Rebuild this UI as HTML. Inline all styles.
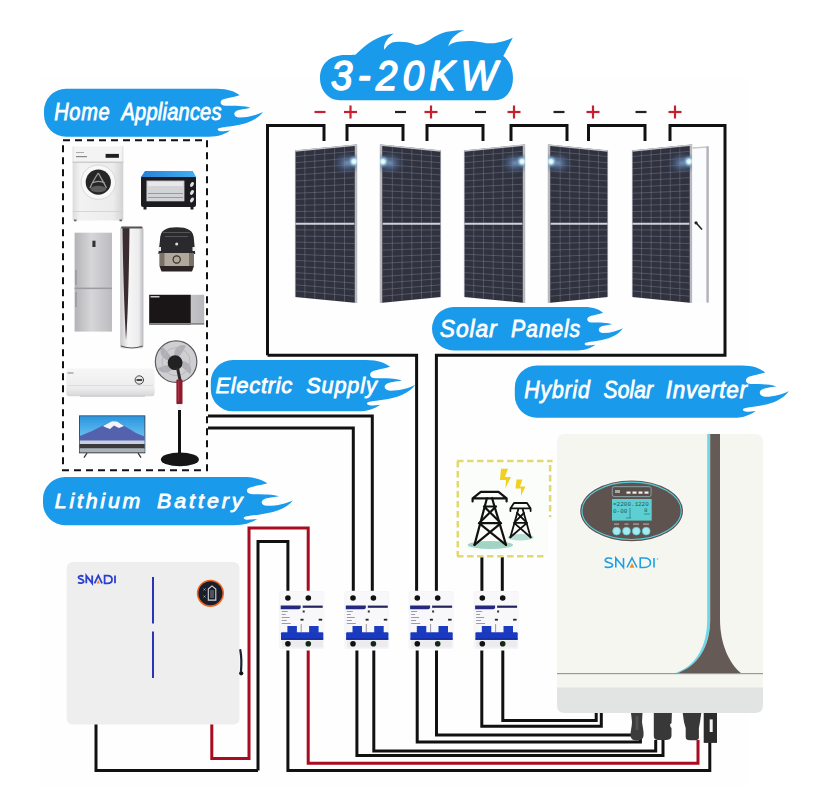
<!DOCTYPE html><html><head><meta charset="utf-8"><style>html,body{margin:0;padding:0;background:#fff;width:832px;height:810px;overflow:hidden}svg{display:block}.lt{font-family:"Liberation Sans",sans-serif;font-style:italic;font-weight:normal;fill:#fff;stroke:#fff;stroke-width:0.7px}</style></head><body>
<svg width="832" height="810" viewBox="0 0 832 810">
<rect x="0" y="0" width="832" height="810" fill="#ffffff"/>
<rect x="40" y="77" width="708" height="709" fill="#fefefe"/>
<path d="M267.5,355.2 L267.5,125.5 L324,125.5 L324,141" fill="none" stroke="#111" stroke-width="3" stroke-linejoin="miter" stroke-linecap="butt"/>
<path d="M347,141 L347,125.5 L403,125.5 L403,141" fill="none" stroke="#111" stroke-width="3" stroke-linejoin="miter" stroke-linecap="butt"/>
<path d="M427,141 L427,125.5 L483,125.5 L483,141" fill="none" stroke="#111" stroke-width="3" stroke-linejoin="miter" stroke-linecap="butt"/>
<path d="M511,141 L511,125.5 L567,125.5 L567,141" fill="none" stroke="#111" stroke-width="3" stroke-linejoin="miter" stroke-linecap="butt"/>
<path d="M588.5,141 L588.5,125.5 L645,125.5 L645,141" fill="none" stroke="#111" stroke-width="3" stroke-linejoin="miter" stroke-linecap="butt"/>
<path d="M670,141 L670,125.5 L725,125.5 L725,355.2 L436.4,355.2 L436.4,590.8" fill="none" stroke="#111" stroke-width="3" stroke-linejoin="miter" stroke-linecap="butt"/>
<path d="M267.5,355.2 L416.6,355.2 L416.6,590.8" fill="none" stroke="#111" stroke-width="3" stroke-linejoin="miter" stroke-linecap="butt"/>
<rect x="314.5" y="110.9" width="11" height="2.2" fill="#c42030"/>
<rect x="395.0" y="110.9" width="11" height="2.2" fill="#222"/>
<rect x="475.0" y="110.9" width="11" height="2.2" fill="#222"/>
<rect x="553.5" y="110.9" width="11" height="2.2" fill="#222"/>
<rect x="635.5" y="110.9" width="11" height="2.2" fill="#222"/>
<rect x="344.0" y="110.9" width="13" height="2.2" fill="#c42030"/>
<rect x="349.4" y="105.5" width="2.2" height="13" fill="#c42030"/>
<rect x="424.5" y="110.9" width="13" height="2.2" fill="#c42030"/>
<rect x="429.9" y="105.5" width="2.2" height="13" fill="#c42030"/>
<rect x="507.5" y="110.9" width="13" height="2.2" fill="#c42030"/>
<rect x="512.9" y="105.5" width="2.2" height="13" fill="#c42030"/>
<rect x="586.5" y="110.9" width="13" height="2.2" fill="#c42030"/>
<rect x="591.9" y="105.5" width="2.2" height="13" fill="#c42030"/>
<rect x="668.5" y="110.9" width="13" height="2.2" fill="#c42030"/>
<rect x="673.9" y="105.5" width="2.2" height="13" fill="#c42030"/>
<defs><radialGradient id="glare"><stop offset="0" stop-color="#ffffff"/><stop offset="0.3" stop-color="#d8f8ff" stop-opacity="0.95"/><stop offset="0.65" stop-color="#80b8d8" stop-opacity="0.45"/><stop offset="1" stop-color="#5a7aa8" stop-opacity="0"/></radialGradient><radialGradient id="glare2"><stop offset="0" stop-color="#7a9cc8" stop-opacity="0.9"/><stop offset="0.55" stop-color="#506890" stop-opacity="0.45"/><stop offset="1" stop-color="#3a4a70" stop-opacity="0"/></radialGradient></defs>
<clipPath id="pc295"><polygon points="295,150.5 357,144.5 357,303 295,297"/></clipPath>
<polygon points="295,150.5 357,144.5 357,303 295,297" fill="#30333f"/>
<path d="M304.90,149.54L304.90,297.96M314.80,148.58L314.80,298.92M324.70,147.63L324.70,299.87M334.60,146.67L334.60,300.83M344.50,145.71L344.50,301.79M295.00,156.60L354.40,151.33M295.00,162.71L354.40,157.92M295.00,168.81L354.40,164.50M295.00,174.92L354.40,171.08M295.00,181.02L354.40,177.67M295.00,187.12L354.40,184.25M295.00,193.23L354.40,190.83M295.00,199.33L354.40,197.42M295.00,205.44L354.40,204.00M295.00,211.54L354.40,210.58M295.00,217.65L354.40,217.17M295.00,229.85L354.40,230.33M295.00,235.96L354.40,236.92M295.00,242.06L354.40,243.50M295.00,248.17L354.40,250.08M295.00,254.27L354.40,256.67M295.00,260.38L354.40,263.25M295.00,266.48L354.40,269.83M295.00,272.58L354.40,276.42M295.00,278.69L354.40,283.00M295.00,284.79L354.40,289.58M295.00,290.90L354.40,296.17" stroke="#8c909c" stroke-width="0.75" opacity="0.5" fill="none"/>
<path d="M295.00,223.75L354.40,223.75" stroke="#d0d2d8" stroke-width="2"/>
<path d="M356,144.5L356,303" stroke="#b8b8bc" stroke-width="2.5"/>
<path d="M295,151.0L357,145.0" stroke="#c4c6cc" stroke-width="1.6"/>
<path d="M295.4,150.5L295.4,297" stroke="#a8aab2" stroke-width="0.8"/>
<g clip-path="url(#pc295)"><ellipse cx="347" cy="163" rx="15" ry="12" fill="url(#glare2)"/>
<circle cx="354" cy="161.5" r="7" fill="url(#glare)"/></g>
<clipPath id="pc380"><polygon points="380,144.5 441,150.5 441,297 380,303"/></clipPath>
<polygon points="380,144.5 441,150.5 441,297 380,303" fill="#30333f"/>
<path d="M392.33,145.71L392.33,301.79M402.07,146.67L402.07,300.83M411.80,147.63L411.80,299.87M421.53,148.59L421.53,298.91M431.27,149.54L431.27,297.96M382.60,151.34L441.00,156.60M382.60,157.92L441.00,162.71M382.60,164.50L441.00,168.81M382.60,171.09L441.00,174.92M382.60,177.67L441.00,181.02M382.60,184.25L441.00,187.12M382.60,190.84L441.00,193.23M382.60,197.42L441.00,199.33M382.60,204.00L441.00,205.44M382.60,210.58L441.00,211.54M382.60,217.17L441.00,217.65M382.60,230.33L441.00,229.85M382.60,236.92L441.00,235.96M382.60,243.50L441.00,242.06M382.60,250.08L441.00,248.17M382.60,256.66L441.00,254.27M382.60,263.25L441.00,260.38M382.60,269.83L441.00,266.48M382.60,276.41L441.00,272.58M382.60,283.00L441.00,278.69M382.60,289.58L441.00,284.79M382.60,296.16L441.00,290.90" stroke="#8c909c" stroke-width="0.75" opacity="0.5" fill="none"/>
<path d="M382.60,223.75L441.00,223.75" stroke="#d0d2d8" stroke-width="2"/>
<path d="M381,144.5L381,303" stroke="#b8b8bc" stroke-width="2.5"/>
<path d="M380,145.0L441,151.0" stroke="#c4c6cc" stroke-width="1.6"/>
<path d="M440.6,150.5L440.6,297" stroke="#a8aab2" stroke-width="0.8"/>
<g clip-path="url(#pc380)"><ellipse cx="390" cy="163" rx="15" ry="12" fill="url(#glare2)"/>
<circle cx="383" cy="161.5" r="7" fill="url(#glare)"/></g>
<clipPath id="pc464"><polygon points="464,150.5 525,144.5 525,303 464,297"/></clipPath>
<polygon points="464,150.5 525,144.5 525,303 464,297" fill="#30333f"/>
<path d="M473.73,149.54L473.73,297.96M483.47,148.59L483.47,298.91M493.20,147.63L493.20,299.87M502.93,146.67L502.93,300.83M512.67,145.71L512.67,301.79M464.00,156.60L522.40,151.34M464.00,162.71L522.40,157.92M464.00,168.81L522.40,164.50M464.00,174.92L522.40,171.09M464.00,181.02L522.40,177.67M464.00,187.12L522.40,184.25M464.00,193.23L522.40,190.84M464.00,199.33L522.40,197.42M464.00,205.44L522.40,204.00M464.00,211.54L522.40,210.58M464.00,217.65L522.40,217.17M464.00,229.85L522.40,230.33M464.00,235.96L522.40,236.92M464.00,242.06L522.40,243.50M464.00,248.17L522.40,250.08M464.00,254.27L522.40,256.66M464.00,260.38L522.40,263.25M464.00,266.48L522.40,269.83M464.00,272.58L522.40,276.41M464.00,278.69L522.40,283.00M464.00,284.79L522.40,289.58M464.00,290.90L522.40,296.16" stroke="#8c909c" stroke-width="0.75" opacity="0.5" fill="none"/>
<path d="M464.00,223.75L522.40,223.75" stroke="#d0d2d8" stroke-width="2"/>
<path d="M524,144.5L524,303" stroke="#b8b8bc" stroke-width="2.5"/>
<path d="M464,151.0L525,145.0" stroke="#c4c6cc" stroke-width="1.6"/>
<path d="M464.4,150.5L464.4,297" stroke="#a8aab2" stroke-width="0.8"/>
<g clip-path="url(#pc464)"><ellipse cx="515" cy="163" rx="15" ry="12" fill="url(#glare2)"/>
<circle cx="522" cy="161.5" r="7" fill="url(#glare)"/></g>
<clipPath id="pc548"><polygon points="548,144.5 608,150.5 608,297 548,303"/></clipPath>
<polygon points="548,144.5 608,150.5 608,297 548,303" fill="#30333f"/>
<path d="M560.17,145.72L560.17,301.78M569.73,146.67L569.73,300.83M579.30,147.63L579.30,299.87M588.87,148.59L588.87,298.91M598.43,149.54L598.43,297.96M550.60,151.34L608.00,156.60M550.60,157.92L608.00,162.71M550.60,164.51L608.00,168.81M550.60,171.09L608.00,174.92M550.60,177.67L608.00,181.02M550.60,184.25L608.00,187.12M550.60,190.84L608.00,193.23M550.60,197.42L608.00,199.33M550.60,204.00L608.00,205.44M550.60,210.59L608.00,211.54M550.60,217.17L608.00,217.65M550.60,230.33L608.00,229.85M550.60,236.92L608.00,235.96M550.60,243.50L608.00,242.06M550.60,250.08L608.00,248.17M550.60,256.66L608.00,254.27M550.60,263.25L608.00,260.38M550.60,269.83L608.00,266.48M550.60,276.41L608.00,272.58M550.60,282.99L608.00,278.69M550.60,289.57L608.00,284.79M550.60,296.16L608.00,290.90" stroke="#8c909c" stroke-width="0.75" opacity="0.5" fill="none"/>
<path d="M550.60,223.75L608.00,223.75" stroke="#d0d2d8" stroke-width="2"/>
<path d="M549,144.5L549,303" stroke="#b8b8bc" stroke-width="2.5"/>
<path d="M548,145.0L608,151.0" stroke="#c4c6cc" stroke-width="1.6"/>
<path d="M607.6,150.5L607.6,297" stroke="#a8aab2" stroke-width="0.8"/>
<g clip-path="url(#pc548)"><ellipse cx="558" cy="163" rx="15" ry="12" fill="url(#glare2)"/>
<circle cx="551" cy="161.5" r="7" fill="url(#glare)"/></g>
<clipPath id="pc632"><polygon points="632,150.5 692,144.5 692,303 632,297"/></clipPath>
<polygon points="632,150.5 692,144.5 692,303 632,297" fill="#30333f"/>
<path d="M641.57,149.54L641.57,297.96M651.13,148.59L651.13,298.91M660.70,147.63L660.70,299.87M670.27,146.67L670.27,300.83M679.83,145.72L679.83,301.78M632.00,156.60L689.40,151.34M632.00,162.71L689.40,157.92M632.00,168.81L689.40,164.51M632.00,174.92L689.40,171.09M632.00,181.02L689.40,177.67M632.00,187.12L689.40,184.25M632.00,193.23L689.40,190.84M632.00,199.33L689.40,197.42M632.00,205.44L689.40,204.00M632.00,211.54L689.40,210.59M632.00,217.65L689.40,217.17M632.00,229.85L689.40,230.33M632.00,235.96L689.40,236.92M632.00,242.06L689.40,243.50M632.00,248.17L689.40,250.08M632.00,254.27L689.40,256.66M632.00,260.38L689.40,263.25M632.00,266.48L689.40,269.83M632.00,272.58L689.40,276.41M632.00,278.69L689.40,282.99M632.00,284.79L689.40,289.57M632.00,290.90L689.40,296.16" stroke="#8c909c" stroke-width="0.75" opacity="0.5" fill="none"/>
<path d="M632.00,223.75L689.40,223.75" stroke="#d0d2d8" stroke-width="2"/>
<path d="M691,144.5L691,303" stroke="#b8b8bc" stroke-width="2.5"/>
<path d="M632,151.0L692,145.0" stroke="#c4c6cc" stroke-width="1.6"/>
<path d="M632.4,150.5L632.4,297" stroke="#a8aab2" stroke-width="0.8"/>
<g clip-path="url(#pc632)"><ellipse cx="682" cy="163" rx="15" ry="12" fill="url(#glare2)"/>
<circle cx="689" cy="161.5" r="7" fill="url(#glare)"/></g>
<polygon points="692.5,147.5 708.5,146.7 708.5,302 692.5,303" fill="#fbfcfd"/>
<path d="M692.5,148 L708,147" stroke="#c8c8cc" stroke-width="1.5"/>
<path d="M707.6,146.5 L707.6,302.5" stroke="#b4b4b8" stroke-width="2"/>
<path d="M707.6,146.5 L707.6,302.5" stroke="#b4b4b8" stroke-width="2"/>
<path d="M696,222.8 L702,229.5" stroke="#222" stroke-width="1.6"/><circle cx="696" cy="222.8" r="1.6" fill="#222"/>
<path d="M320,78 C320,64 330,55 345,55 C350,55 353,55 355.4,54.8 C366,44 378,35 393.9,33.4 C387,38 383,44 384.4,49.8 C388,44 392,42 397,41.8 C405,41.5 410,42.5 416,45 C422,45 428,41 434,37 C442,32 452,30 464.2,30.2 C456,33 449,40 448.4,46.6 C451,43 455,42 460,41.5 C468,40.5 476,41 483,42.5 C490,44.5 500,43 512.8,37.8 C509,45 506,51 503.3,56 C509,60 513,68 513,78 C513,90 506,100.2 495,100.2 L340,100.2 C328,100.2 320,90 320,78 Z" fill="#1a9aea"/>
<g transform="translate(331,89.5) scale(1,1.08)"><text x="0" y="0" font-size="38.5" textLength="166" lengthAdjust="spacing" style="font-family:'Liberation Sans',sans-serif;font-style:italic;font-weight:normal;stroke:#fff;stroke-width:1.5px;stroke-linejoin:round" fill="#fff">3-20KW</text></g>
<path d="M66.00,88.8 L216.80,88.8 C228.80,88.80 234.80,91.81 239.50,95.13 C232.80,97.34 225.30,97.84 222.30,99.85 C219.30,101.85 220.30,105.87 225.80,105.87 C234.80,105.87 244.80,105.87 250.50,107.88 C244.80,108.88 238.80,109.39 236.30,110.89 C232.80,112.90 233.80,117.42 239.80,117.42 C248.80,117.42 256.80,114.91 263.00,112.10 C256.80,119.93 246.80,123.95 232.80,125.96 C222.80,127.46 216.80,127.46 217.80,129.97 C218.80,131.98 224.80,130.98 230.30,130.47 C224.80,133.99 218.80,136.70 208.80,136.70 L66.00,136.7 A22.00,22.00 0 0 1 44,114.70 L44,110.80 A22.00,22.00 0 0 1 66.00,88.8 Z" fill="#1a9aea"/>
<g transform="translate(54.2,120) scale(1.000,1.15)"><text x="0" y="0" font-size="20.04" textLength="55.5" lengthAdjust="spacing" class="lt">Home</text></g>
<g transform="translate(121.5,120) scale(1.000,1.15)"><text x="0" y="0" font-size="20.04" textLength="100.0" lengthAdjust="spacing" class="lt">Appliances</text></g>
<path d="M453.75,307 L584.00,307 C594.13,307.00 599.19,309.74 603.16,312.75 C597.51,314.75 591.18,315.21 588.64,317.03 C586.11,318.86 586.95,322.50 591.60,322.50 C599.19,322.50 607.64,322.50 612.45,324.33 C607.64,325.24 602.57,325.69 600.46,327.06 C597.51,328.89 598.35,332.99 603.42,332.99 C611.01,332.99 617.77,330.71 623.00,328.16 C617.77,335.27 609.32,338.92 597.51,340.74 C589.06,342.11 584.00,342.11 584.84,344.39 C585.69,346.21 590.75,345.30 595.40,344.85 C590.75,348.04 585.69,350.50 577.25,350.50 L453.75,350.5 A21.75,21.75 0 0 1 432,328.75 L432,328.75 A21.75,21.75 0 0 1 453.75,307 Z" fill="#1a9aea"/>
<g transform="translate(439.8,337) scale(1.087,1.15)"><text x="0" y="0" font-size="21.01" textLength="52.2" lengthAdjust="spacing" class="lt">Solar</text></g>
<g transform="translate(511,337) scale(1.013,1.15)"><text x="0" y="0" font-size="21.01" textLength="68.3" lengthAdjust="spacing" class="lt">Panels</text></g>
<path d="M232.80,360 L366.00,360 C378.78,360.00 385.17,363.23 390.17,366.78 C383.04,369.14 375.05,369.68 371.86,371.83 C368.66,373.98 369.73,378.28 375.58,378.28 C385.17,378.28 395.82,378.28 401.89,380.43 C395.82,381.51 389.43,382.05 386.77,383.66 C383.04,385.81 384.10,390.65 390.49,390.65 C400.08,390.65 408.60,387.96 415.20,384.95 C408.60,393.34 397.95,397.64 383.04,399.79 C372.39,401.41 366.00,401.41 367.06,404.09 C368.13,406.25 374.52,405.17 380.38,404.63 C374.52,408.40 368.13,411.30 357.48,411.30 L232.80,411.3 A22.00,22.00 0 0 1 210.8,389.30 L210.8,382.00 A22.00,22.00 0 0 1 232.80,360 Z" fill="#1a9aea"/>
<g transform="translate(215.4,393.1) scale(1.121,1.15)"><text x="0" y="0" font-size="19.67" textLength="68.6" lengthAdjust="spacing" class="lt">Electric</text></g>
<g transform="translate(306.3,393.1) scale(1.100,1.15)"><text x="0" y="0" font-size="19.67" textLength="64.0" lengthAdjust="spacing" class="lt">Supply</text></g>
<path d="M536.80,365.5 L742.00,365.5 C754.21,365.50 760.31,368.78 765.09,372.39 C758.28,374.80 750.65,375.35 747.60,377.54 C744.54,379.73 745.56,384.10 751.16,384.10 C760.31,384.10 770.48,384.10 776.28,386.29 C770.48,387.39 764.38,387.93 761.84,389.58 C758.28,391.76 759.29,396.69 765.40,396.69 C774.55,396.69 782.69,393.95 789.00,390.89 C782.69,399.42 772.52,403.80 758.28,405.99 C748.10,407.63 742.00,407.63 743.02,410.37 C744.03,412.56 750.14,411.46 755.73,410.92 C750.14,414.75 744.03,417.70 733.86,417.70 L536.80,417.7 A22.00,22.00 0 0 1 514.8,395.70 L514.8,387.50 A22.00,22.00 0 0 1 536.80,365.5 Z" fill="#1a9aea"/>
<g transform="translate(524.3,398) scale(1.013,1.15)"><text x="0" y="0" font-size="21.01" textLength="64.6" lengthAdjust="spacing" class="lt">Hybrid</text></g>
<g transform="translate(603.6,398) scale(1.000,1.15)"><text x="0" y="0" font-size="21.01" textLength="49.5" lengthAdjust="spacing" class="lt">Solar</text></g>
<g transform="translate(665.7,398) scale(1.072,1.15)"><text x="0" y="0" font-size="21.01" textLength="75.8" lengthAdjust="spacing" class="lt">Inverter</text></g>
<path d="M65.00,477 L242.70,477 C255.76,477.00 262.30,480.03 267.41,483.37 C260.12,485.59 251.95,486.09 248.69,488.12 C245.42,490.14 246.51,494.18 252.50,494.18 C262.30,494.18 273.18,494.18 279.39,496.20 C273.18,497.21 266.65,497.71 263.93,499.23 C260.12,501.25 261.21,505.80 267.74,505.80 C277.54,505.80 286.25,503.27 293.00,500.44 C286.25,508.32 275.36,512.37 260.12,514.39 C249.23,515.90 242.70,515.90 243.79,518.43 C244.88,520.45 251.41,519.44 257.40,518.94 C251.41,522.47 244.88,525.20 233.99,525.20 L65.00,525.2 A22.00,22.00 0 0 1 43,503.20 L43,499.00 A22.00,22.00 0 0 1 65.00,477 Z" fill="#1a9aea"/>
<g transform="translate(54.8,508) scale(1.180,1.15)"><text x="0" y="0" font-size="18.10" textLength="72.5" lengthAdjust="spacing" class="lt">Lithium</text></g>
<g transform="translate(157,508) scale(1.180,1.15)"><text x="0" y="0" font-size="18.10" textLength="72.5" lengthAdjust="spacing" class="lt">Battery</text></g>
<rect x="63" y="140.3" width="144" height="330" fill="none" stroke="#111" stroke-width="2" stroke-dasharray="7 5"/>
<path d="M208,416 L372.3,416 L372.3,590.8" fill="none" stroke="#111" stroke-width="3" stroke-linejoin="miter" stroke-linecap="butt"/>
<path d="M208,428 L353.3,428 L353.3,590.8" fill="none" stroke="#111" stroke-width="3" stroke-linejoin="miter" stroke-linecap="butt"/>
<path d="M249,724 L249,528 L308.2,528 L308.2,590.8" fill="none" stroke="#a80c20" stroke-width="3" stroke-linejoin="miter" stroke-linecap="butt"/>
<path d="M258,770.5 L258,541.5 L287.9,541.5 L287.9,590.8" fill="none" stroke="#111" stroke-width="3" stroke-linejoin="miter" stroke-linecap="butt"/>
<path d="M96,724 L96,770.5 L258,770.5" fill="none" stroke="#111" stroke-width="3" stroke-linejoin="miter" stroke-linecap="butt"/>
<path d="M211.8,724 L211.8,758.4 L249,758.4 L249,724" fill="none" stroke="#a80c20" stroke-width="3" stroke-linejoin="miter" stroke-linecap="butt"/>
<path d="M287.9,650.4 L287.9,770.5 L709.8,770.5 L709.8,742" fill="none" stroke="#111" stroke-width="3" stroke-linejoin="miter" stroke-linecap="butt"/>
<path d="M308.2,650.4 L308.2,763.2 L698,763.2 L698,740" fill="none" stroke="#a80c20" stroke-width="3" stroke-linejoin="miter" stroke-linecap="butt"/>
<path d="M356.9,650.4 L356.9,755.4 L663,755.4 L663,740" fill="none" stroke="#111" stroke-width="3" stroke-linejoin="miter" stroke-linecap="butt"/>
<path d="M373.8,650.4 L373.8,750.9 L655.7,750.9 L655.7,740" fill="none" stroke="#111" stroke-width="3" stroke-linejoin="miter" stroke-linecap="butt"/>
<path d="M417.2,650.4 L417.2,742 L640.4,742 L640.4,738" fill="none" stroke="#111" stroke-width="3" stroke-linejoin="miter" stroke-linecap="butt"/>
<path d="M436.5,650.4 L436.5,734.9 L632,734.9" fill="none" stroke="#111" stroke-width="3" stroke-linejoin="miter" stroke-linecap="butt"/>
<path d="M481.8,650.4 L481.8,726.2 L601.3,726.2 L601.3,713" fill="none" stroke="#111" stroke-width="3" stroke-linejoin="miter" stroke-linecap="butt"/>
<path d="M502.8,650.4 L502.8,720.5 L596.2,720.5 L596.2,713" fill="none" stroke="#111" stroke-width="3" stroke-linejoin="miter" stroke-linecap="butt"/>
<path d="M481.9,557 L481.9,590.8" fill="none" stroke="#111" stroke-width="3" stroke-linejoin="miter" stroke-linecap="butt"/>
<path d="M502.3,557 L502.3,590.8" fill="none" stroke="#111" stroke-width="3" stroke-linejoin="miter" stroke-linecap="butt"/>
<rect x="279.2" y="591" width="45" height="58" rx="2" fill="#eeeef2" opacity="0.6"/>
<rect x="280.7" y="592" width="43" height="56" fill="#f8f8fa"/>
<circle cx="287.9" cy="598" r="2.8" fill="#111"/><circle cx="308.3" cy="598" r="2.8" fill="#111"/>
<path d="M280.7,605.4 L300.7,605.4 L300.7,607.5 Q300.7,609.3 298.7,609.3 L280.7,609.3 Z" fill="#24287e"/>
<rect x="302.7" y="605.6" width="20" height="2.2" fill="#20245a"/>
<g fill="#9a9aa8"><rect x="281.7" y="611" width="6" height="1"/><rect x="281.7" y="614" width="4" height="1"/><rect x="281.7" y="617" width="8" height="1"/><rect x="281.7" y="620" width="5" height="1"/><rect x="281.7" y="623" width="9" height="1"/></g>
<rect x="300.5" y="618.8" width="3" height="1.8" fill="#222"/><rect x="318.7" y="618.8" width="3.5" height="1.8" fill="#222"/><rect x="302.7" y="610.5" width="2" height="2" fill="#333"/>
<rect x="287.4" y="626" width="9.5" height="7" fill="#1c3cc0"/><rect x="309.09999999999997" y="626" width="9.5" height="7" fill="#1c3cc0"/>
<rect x="300.7" y="624" width="1" height="8" fill="#9a9aa0"/>
<rect x="281.0" y="632.3" width="42.3" height="7.5" rx="1" fill="#1a38c0"/>
<rect x="281.0" y="638.5" width="42.3" height="1.3" fill="#12288a"/>
<rect x="281.7" y="640.5" width="41" height="7" fill="#ececf0"/>
<circle cx="287.9" cy="643.7" r="2.8" fill="#111"/><circle cx="308.3" cy="643.7" r="2.8" fill="#112a18"/>
<rect x="344.3" y="591" width="45" height="58" rx="2" fill="#eeeef2" opacity="0.6"/>
<rect x="345.8" y="592" width="43" height="56" fill="#f8f8fa"/>
<circle cx="353.0" cy="598" r="2.8" fill="#111"/><circle cx="373.40000000000003" cy="598" r="2.8" fill="#111"/>
<path d="M345.8,605.4 L365.8,605.4 L365.8,607.5 Q365.8,609.3 363.8,609.3 L345.8,609.3 Z" fill="#24287e"/>
<rect x="367.8" y="605.6" width="20" height="2.2" fill="#20245a"/>
<g fill="#9a9aa8"><rect x="346.8" y="611" width="6" height="1"/><rect x="346.8" y="614" width="4" height="1"/><rect x="346.8" y="617" width="8" height="1"/><rect x="346.8" y="620" width="5" height="1"/><rect x="346.8" y="623" width="9" height="1"/></g>
<rect x="365.6" y="618.8" width="3" height="1.8" fill="#222"/><rect x="383.8" y="618.8" width="3.5" height="1.8" fill="#222"/><rect x="367.8" y="610.5" width="2" height="2" fill="#333"/>
<rect x="352.5" y="626" width="9.5" height="7" fill="#1c3cc0"/><rect x="374.2" y="626" width="9.5" height="7" fill="#1c3cc0"/>
<rect x="365.8" y="624" width="1" height="8" fill="#9a9aa0"/>
<rect x="346.1" y="632.3" width="42.3" height="7.5" rx="1" fill="#1a38c0"/>
<rect x="346.1" y="638.5" width="42.3" height="1.3" fill="#12288a"/>
<rect x="346.8" y="640.5" width="41" height="7" fill="#ececf0"/>
<circle cx="353.0" cy="643.7" r="2.8" fill="#111"/><circle cx="373.40000000000003" cy="643.7" r="2.8" fill="#112a18"/>
<rect x="408.6" y="591" width="45" height="58" rx="2" fill="#eeeef2" opacity="0.6"/>
<rect x="410.1" y="592" width="43" height="56" fill="#f8f8fa"/>
<circle cx="417.3" cy="598" r="2.8" fill="#111"/><circle cx="437.70000000000005" cy="598" r="2.8" fill="#111"/>
<path d="M410.1,605.4 L430.1,605.4 L430.1,607.5 Q430.1,609.3 428.1,609.3 L410.1,609.3 Z" fill="#24287e"/>
<rect x="432.1" y="605.6" width="20" height="2.2" fill="#20245a"/>
<g fill="#9a9aa8"><rect x="411.1" y="611" width="6" height="1"/><rect x="411.1" y="614" width="4" height="1"/><rect x="411.1" y="617" width="8" height="1"/><rect x="411.1" y="620" width="5" height="1"/><rect x="411.1" y="623" width="9" height="1"/></g>
<rect x="429.90000000000003" y="618.8" width="3" height="1.8" fill="#222"/><rect x="448.1" y="618.8" width="3.5" height="1.8" fill="#222"/><rect x="432.1" y="610.5" width="2" height="2" fill="#333"/>
<rect x="416.8" y="626" width="9.5" height="7" fill="#1c3cc0"/><rect x="438.5" y="626" width="9.5" height="7" fill="#1c3cc0"/>
<rect x="430.1" y="624" width="1" height="8" fill="#9a9aa0"/>
<rect x="410.40000000000003" y="632.3" width="42.3" height="7.5" rx="1" fill="#1a38c0"/>
<rect x="410.40000000000003" y="638.5" width="42.3" height="1.3" fill="#12288a"/>
<rect x="411.1" y="640.5" width="41" height="7" fill="#ececf0"/>
<circle cx="417.3" cy="643.7" r="2.8" fill="#111"/><circle cx="437.70000000000005" cy="643.7" r="2.8" fill="#112a18"/>
<rect x="473.6" y="591" width="45" height="58" rx="2" fill="#eeeef2" opacity="0.6"/>
<rect x="475.1" y="592" width="43" height="56" fill="#f8f8fa"/>
<circle cx="482.3" cy="598" r="2.8" fill="#111"/><circle cx="502.70000000000005" cy="598" r="2.8" fill="#111"/>
<path d="M475.1,605.4 L495.1,605.4 L495.1,607.5 Q495.1,609.3 493.1,609.3 L475.1,609.3 Z" fill="#24287e"/>
<rect x="497.1" y="605.6" width="20" height="2.2" fill="#20245a"/>
<g fill="#9a9aa8"><rect x="476.1" y="611" width="6" height="1"/><rect x="476.1" y="614" width="4" height="1"/><rect x="476.1" y="617" width="8" height="1"/><rect x="476.1" y="620" width="5" height="1"/><rect x="476.1" y="623" width="9" height="1"/></g>
<rect x="494.90000000000003" y="618.8" width="3" height="1.8" fill="#222"/><rect x="513.1" y="618.8" width="3.5" height="1.8" fill="#222"/><rect x="497.1" y="610.5" width="2" height="2" fill="#333"/>
<rect x="481.8" y="626" width="9.5" height="7" fill="#1c3cc0"/><rect x="503.5" y="626" width="9.5" height="7" fill="#1c3cc0"/>
<rect x="495.1" y="624" width="1" height="8" fill="#9a9aa0"/>
<rect x="475.40000000000003" y="632.3" width="42.3" height="7.5" rx="1" fill="#1a38c0"/>
<rect x="475.40000000000003" y="638.5" width="42.3" height="1.3" fill="#12288a"/>
<rect x="476.1" y="640.5" width="41" height="7" fill="#ececf0"/>
<circle cx="482.3" cy="643.7" r="2.8" fill="#111"/><circle cx="502.70000000000005" cy="643.7" r="2.8" fill="#112a18"/>
<path d="M457,461 L552.6,461 M550.1,465 L550.1,517.2 M457.8,461 L457.8,556.2 M457,556.2 L543.8,556.2" fill="none" stroke="#e0da70" stroke-width="2.6" stroke-dasharray="6.5 3.5"/>
<rect x="460" y="463" width="88" height="91" fill="#fbfdfb"/>
<ellipse cx="490.3" cy="545" rx="22.7" ry="4" fill="#a2d4c6"/><ellipse cx="520.5" cy="537.3" rx="13" ry="3.2" fill="#b6ddd2"/>
<g stroke="#111" stroke-width="2.2" fill="none" stroke-linejoin="round" stroke-linecap="round"><path d="M474.5,544.9 L487,498 M506,544.9 L492,498 M472.6,498.3 L480.8,491.8 L498.5,491.8 L506.6,498.3 M472.6,498.3 L506.6,498.3 M472.6,498.3 L472.6,501.5 M506.6,498.3 L506.6,501.5"/><path d="M484,506.5 L496,506.5 M479,523.2 L501,523.2 M484,506.5 L501,523.2 M496,506.5 L479,523.2 M479,523.2 L506,544.9 M501,523.2 L474.5,544.9"/></g>
<g stroke="#111" stroke-width="1.8" fill="none" stroke-linejoin="round" stroke-linecap="round"><path d="M510.4,537.3 L518.5,508.4 M530.6,537.3 L522.5,508.4 M510.4,508.4 L514,503 L527,503 L530.6,508.4 Z M510.4,508.4 L510.4,511 M530.6,508.4 L530.6,511"/><path d="M514,522.9 L527,522.9 M517,513 L527,522.9 M524,513 L514,522.9 M514,522.9 L530.6,537.3 M527,522.9 L510.4,537.3"/></g>
<path d="M501,468.7 L508,468.7 L505,477 L511,477 L505.4,488.2 L506,480 L500,480 Z" fill="#f2d020"/>
<path d="M516.5,479.4 L522.5,479.4 L520,486.5 L525.5,486.5 L521,495.8 L521,488.5 L515.5,488.5 Z" fill="#f2d020"/>
<path d="M565,434 L755,434 Q763,434 763,442 L763,705 Q763,713 755,713 L565,713 Q557,713 557,705 L557,442 Q557,434 565,434 Z" fill="#f6f6f1"/>
<path d="M557,687.5 L763,687.5 L763,705 Q763,713 755,713 L565,713 Q557,713 557,705 Z" fill="#e2e4e4"/>
<rect x="557" y="673" width="206" height="1.2" fill="#9a9a9a"/>
<path d="M707.2,434 L710.2,434 L710.2,619 C710,650 695,668 678,673 L675.6,673 C695,666 707.2,648 707.2,619 Z" fill="#6ed8e8"/>
<path d="M710.2,434 L720,434 L720,619 C720,645 730,664 741,673 L678,673 C697,666 710.2,648 710.2,619 Z" fill="#665a56"/>
<ellipse cx="631.6" cy="510.8" rx="52.5" ry="31.5" fill="#fafaf6"/>
<ellipse cx="631.6" cy="510.8" rx="51.4" ry="30.4" fill="#5f5350"/>
<ellipse cx="631.6" cy="510.8" rx="49.6" ry="28.7" fill="none" stroke="#5ccad6" stroke-width="1.1"/>
<rect x="612.3" y="486.7" width="38.8" height="9.9" rx="2" fill="#5a4e4b" stroke="#8fb8bc" stroke-width="0.8"/>
<rect x="615" y="490" width="5" height="3" fill="#d0d0d0" opacity="0.7"/>
<rect x="626.5" y="491.5" width="4" height="2.2" fill="#f0f0f0"/>
<rect x="632.5" y="491.5" width="4" height="2.2" fill="#f0f0f0"/>
<rect x="638.5" y="491.5" width="4" height="2.2" fill="#f0f0f0"/>
<rect x="644.5" y="491.5" width="4" height="2.2" fill="#f0f0f0"/>
<rect x="612" y="499" width="39.7" height="21.6" fill="#5ccfd2"/>
<g style="font-family:'Liberation Mono',monospace" font-size="6" fill="#2a5a60"><text x="613" y="505.5">=220</text><text x="627.5" y="505.5">0.1</text><text x="638" y="505.5">220</text><text x="613" y="512.5">0-00</text><text x="644" y="512">8</text></g>
<g fill="none" stroke="#2a6a70" stroke-width="0.8" opacity="0.8"><path d="M630,508 v10 M626,518 h5 M644,514 h6"/></g>
<g fill="#c8c0b8" opacity="0.8"><rect x="614" y="523.5" width="5" height="1.2"/><rect x="624.5" y="523.5" width="4" height="1.2"/><rect x="633" y="523.5" width="6" height="1.2"/><rect x="643" y="523.5" width="6" height="1.2"/></g>
<circle cx="616.6" cy="531.1" r="3.9" fill="#a6eaf0" stroke="#5ccad6" stroke-width="0.8"/>
<circle cx="626.5" cy="531.1" r="3.9" fill="#a6eaf0" stroke="#5ccad6" stroke-width="0.8"/>
<circle cx="636.3" cy="531.1" r="3.9" fill="#a6eaf0" stroke="#5ccad6" stroke-width="0.8"/>
<circle cx="646.2" cy="531.1" r="3.9" fill="#a6eaf0" stroke="#5ccad6" stroke-width="0.8"/>
<g fill="none" stroke="#1ea0e0" stroke-width="1.6" stroke-linejoin="miter"><path d="M612,558.8 C610,557.6 605.5,557.6 605.2,560.2 C605,562.6 612.5,562.2 612.6,565 C612.7,567.6 607,568 604.6,566.6"/><path d="M615.8,567.5 L615.8,558 L623.5,567.5 L623.5,558"/><path d="M627,567.5 L632,558 L637,567.5"/><path d="M640.2,558 L640.2,567.5 L644,567.5 C648.5,567.5 650.5,565 650.5,562.7 C650.5,560.3 648.5,558 644,558 Z"/><path d="M654,558 L654,567.5"/></g>
<path d="M629.5,567.8 L632,563 L634.5,567.8 Z" fill="#f08a20"/>
<circle cx="657.5" cy="559" r="1" fill="#9ad0ea"/>
<path d="M631,713 L642.5,713 L642,722 C642.5,727 644,731 643.5,736 C643,739 641,740.5 637,740.5 C633,740.5 631,739 630.5,736 C630.3,731 632,727 632,722 Z" fill="#3c3c3c"/>
<rect x="635.5" y="716" width="3" height="14" fill="#5a5a5a" opacity="0.7"/>
<path d="M653.8,713 L671.9,713 L671.5,723 L670,724.5 L670.5,727 L671.5,728 L671.5,736 C671,739 669,740 665,740 L659,740 C655.5,740 654,739 653.8,736 Z" fill="#383838"/>
<path d="M682.7,713 L701.3,713 L700,722 L698.9,728 L698.9,738 C698.5,740 697,740.2 694,740.2 L690,740.2 C687,740.2 685.7,739.5 685.7,737 L685.7,728 L684,722 Z" fill="#383838"/>
<rect x="703.7" y="713" width="13.3" height="29.9" fill="#2c2c2c"/><rect x="709.7" y="719.4" width="3" height="12.6" fill="#f4f4f4"/>
<rect x="66.7" y="562" width="172.8" height="162.4" rx="6" fill="#eeeeee"/>
<rect x="152" y="577" width="2" height="46.5" fill="#2a34b8"/><rect x="152" y="631.5" width="2" height="46.5" fill="#2a34b8"/>
<circle cx="210.4" cy="593.3" r="13.6" fill="#f06424"/><circle cx="210.4" cy="593.3" r="12" fill="#1a1e2a"/>
<path d="M208.3,600.1 L208.3,589 L212,585.9 L215.8,589 L215.8,600.1 Z" fill="none" stroke="#d8d8d8" stroke-width="1.1"/>
<g stroke="#cfcfcf" stroke-width="0.6"><path d="M210,591 h4 M210,593 h4 M210,595 h4 M210,597 h4"/><path d="M203.5,588.5 l2,2 M205.5,588.5 l-2,2 M203.5,595.5 l2,2 M205.5,595.5 l-2,2"/></g>
<g fill="none" stroke="#2a40d0" stroke-width="1.8"><path d="M83.3,576.4 C81.8,575.4 78.6,575.4 78.4,577.4 C78.2,579.3 83.6,579 83.7,581.2 C83.8,583.2 79.6,583.6 78,582.5"/><path d="M86.3,583.3 L86.3,575.6 L92.2,583.3 L92.2,575.6"/><path d="M94.5,583.3 L98.3,575.6 L102.1,583.3"/><path d="M104.6,575.6 L104.6,583.3 L107.4,583.3 C110.6,583.3 112,581.4 112,579.5 C112,577.6 110.6,575.6 107.4,575.6 Z"/><path d="M115,575.6 L115,583.3"/></g>
<path d="M96.6,583.5 L98.3,580 L100,583.5 Z" fill="#f08a20"/>
<path d="M240.3,650 C241.4,656 241.6,664 241,671" stroke="#1a2230" stroke-width="2.2" fill="none" stroke-linecap="round"/><circle cx="241.2" cy="673.3" r="2.1" fill="#111"/>
<defs><linearGradient id="gWash" x1="0" x2="1"><stop offset="0" stop-color="#dcdcdc"/><stop offset="0.15" stop-color="#f2f2f2"/><stop offset="0.8" stop-color="#ececec"/><stop offset="1" stop-color="#d2d2d2"/></linearGradient><linearGradient id="gSilver" x1="0" x2="1"><stop offset="0" stop-color="#b4b4b8"/><stop offset="0.45" stop-color="#d6d6d8"/><stop offset="1" stop-color="#bcbcc0"/></linearGradient><linearGradient id="gTower" x1="0" x2="1"><stop offset="0" stop-color="#c8c8cc"/><stop offset="0.35" stop-color="#f6f6f6"/><stop offset="0.8" stop-color="#ececee"/><stop offset="1" stop-color="#b8b8bc"/></linearGradient><linearGradient id="gOvenTop" x1="0" x2="1"><stop offset="0" stop-color="#2a7fd8"/><stop offset="1" stop-color="#40b0f0"/></linearGradient><linearGradient id="gAC" x1="0" x2="0" y1="0" y2="1"><stop offset="0" stop-color="#f6f6f6"/><stop offset="0.7" stop-color="#ededee"/><stop offset="1" stop-color="#d6d6d8"/></linearGradient><linearGradient id="gSky" x1="0" x2="0" y1="0" y2="1"><stop offset="0" stop-color="#2a96e0"/><stop offset="0.6" stop-color="#6ac0f0"/><stop offset="1" stop-color="#8ad0f4"/></linearGradient><linearGradient id="gMicro" x1="0" x2="1"><stop offset="0" stop-color="#e8e8ea"/><stop offset="1" stop-color="#b8b8bc"/></linearGradient></defs>
<rect x="72.6" y="146.7" width="50.7" height="73.8" fill="url(#gWash)"/>
<rect x="73.5" y="147" width="49" height="15.2" fill="#f3f3f3"/>
<rect x="72.6" y="161.6" width="50.7" height="1.2" fill="#c4c4c4"/>
<rect x="105.6" y="153.9" width="13.3" height="3.9" fill="#1e1e1e"/>
<rect x="76" y="152" width="8" height="1" fill="#aaa"/><rect x="76" y="156" width="11" height="1.2" fill="#888"/>
<rect x="72.6" y="211" width="50.7" height="0.8" fill="#d0d0d0"/>
<rect x="74" y="219.5" width="2.5" height="1.8" fill="#666"/><rect x="119.5" y="219.5" width="2.5" height="1.8" fill="#666"/>
<circle cx="98.3" cy="182.2" r="17.2" fill="#f8f8f8" stroke="#d0d0d0" stroke-width="0.8"/>
<circle cx="98.3" cy="182.2" r="12.6" fill="#262626"/>
<path d="M98.3,173 C95,178 92,183 90,188 M98.3,173 C101,178 104,183 106.5,188 M92,183 C96,181 101,181 105,183" fill="none" stroke="#9a9a9a" stroke-width="1.3"/>
<ellipse cx="98.3" cy="189" rx="8" ry="3.2" fill="#6a6a6a" opacity="0.8"/>
<rect x="141" y="176" width="55" height="31" rx="2" fill="#1c1c20"/>
<path d="M145,171 L192.8,171 L196,177 L141,177 Z" fill="url(#gOvenTop)"/>
<rect x="146.5" y="180.6" width="37.9" height="20.7" fill="#d2d3d6"/>
<rect x="148" y="182" width="35" height="4" fill="#e8e8ea"/><rect x="148" y="193" width="35" height="1" fill="#9a9a9e"/><rect x="148" y="197" width="35" height="1" fill="#9a9a9e"/>
<g fill="#e0e0e0"><ellipse cx="192" cy="184.5" rx="1.6" ry="2.6" transform="rotate(35 192 184.5)"/><ellipse cx="192" cy="192.5" rx="1.6" ry="2.6" transform="rotate(35 192 192.5)"/><ellipse cx="192" cy="200" rx="1.6" ry="2.6" transform="rotate(35 192 200)"/></g>
<rect x="143.5" y="206" width="3" height="3.5" fill="#1c1c20"/><rect x="190.5" y="206" width="3" height="3.5" fill="#1c1c20"/>
<rect x="74.6" y="232.7" width="37.4" height="98.9" fill="url(#gSilver)"/>
<rect x="74.6" y="287.6" width="37.4" height="1.5" fill="#9c9ca0"/>
<rect x="92.4" y="240.7" width="3.1" height="6.3" fill="#333"/>
<rect x="75.5" y="270" width="1" height="15" fill="#8a8a8e"/><rect x="75.5" y="292" width="1" height="15" fill="#8a8a8e"/>
<rect x="120.2" y="226.5" width="23.2" height="122" rx="3" fill="url(#gTower)"/>
<path d="M122.5,228 L129.5,228 C129,270 128,315 126,340 C124.5,315 123,270 122.5,228 Z" fill="#3a2c30"/>
<rect x="121" y="226.5" width="21.5" height="2" rx="1" fill="#555"/>
<path d="M121,346 Q131.8,350 142.6,346" stroke="#555" stroke-width="1.2" fill="none"/>
<path d="M160,240 C160,230 166,227.2 176.7,227.2 C187.4,227.2 194,230 194,240 L195.2,254 L158.3,254 Z" fill="#2a2a2e"/>
<rect x="163" y="232" width="27" height="1" fill="#555"/><rect x="165" y="236" width="23" height="1" fill="#555"/>
<circle cx="176.7" cy="244" r="1.5" fill="#ddd"/><rect x="158" y="247" width="3" height="4" fill="#eee"/><rect x="192.5" y="247" width="3" height="4" fill="#eee"/>
<rect x="159.5" y="253" width="34.5" height="13" fill="#b0a89c"/>
<rect x="159.5" y="253" width="5" height="13" fill="#7a7268"/><rect x="189" y="253" width="5" height="13" fill="#7a7268"/>
<circle cx="176.7" cy="259.5" r="3.6" fill="none" stroke="#3a3020" stroke-width="1.2"/>
<path d="M159.5,266 L194,266 L192,271.4 L161.5,271.4 Z" fill="#2a2424"/>
<rect x="149.2" y="294.8" width="55" height="29.8" fill="url(#gMicro)"/>
<rect x="149.2" y="294.8" width="41.5" height="29.8" fill="#1a1618"/>
<rect x="150.5" y="296" width="9" height="1.5" fill="#ccc"/><rect x="149.2" y="323" width="55" height="1.6" fill="#888"/>
<rect x="66.3" y="368.4" width="88.3" height="27.9" rx="3" fill="url(#gAC)"/>
<rect x="68" y="385" width="85" height="0.8" fill="#d8d8da"/><rect x="80" y="395.5" width="65" height="1.2" fill="#c8c8ca"/>
<rect x="67.5" y="372" width="6" height="2" fill="#bbb"/>
<circle cx="139.3" cy="380" r="4.2" fill="#e8e8e8" stroke="#444" stroke-width="1"/><rect x="136.5" y="379" width="5.6" height="2" fill="#444"/>
<circle cx="176.1" cy="361.7" r="20.75" fill="#cfcfd2" stroke="#5a5a5e" stroke-width="1.2"/>
<g fill="#a8a8ae" opacity="0.8"><path d="M176,362 C170,350 180,342 186,346 Z"/><path d="M176,362 C188,358 194,368 190,374 Z"/><path d="M176,362 C172,376 160,374 158,368 Z"/><path d="M176,362 C162,362 158,352 162,346 Z"/></g>
<circle cx="176.1" cy="361.7" r="14" fill="none" stroke="#b8b8bc" stroke-width="1"/>
<circle cx="175.1" cy="362.7" r="7.4" fill="#222"/>
<path d="M176,368 L178.5,380 L181.5,380 L179,368 Z" fill="#2a2a2a"/>
<rect x="176.4" y="379.5" width="6.1" height="24.7" rx="1" fill="#8a1c2c"/>
<rect x="178" y="381" width="1.2" height="20" fill="#c04050" opacity="0.6"/>
<rect x="177.5" y="404.2" width="4" height="6" fill="#f4f4f4"/>
<rect x="178" y="410" width="3" height="46" fill="#111"/>
<ellipse cx="179.9" cy="459.4" rx="19" ry="6.9" fill="#151515"/>
<rect x="79" y="415.4" width="66.3" height="37.9" fill="#3a3a40"/>
<rect x="79.8" y="416.2" width="64.7" height="36" fill="url(#gSky)"/>
<path d="M79.8,436 L92,431 L104,425 L112,421.3 L117,421.5 L126,427 L136,433 L144.5,436.5 L144.5,444 L79.8,444 Z" fill="#5462ae"/>
<path d="M103,426 L112,421.3 L117,421.5 L124,426 L119,428 L114,425.5 L110,429 L106,427.5 Z" fill="#f2f4fa"/>
<rect x="79.8" y="440.5" width="64.7" height="3.5" fill="#dfe4ec" opacity="0.85"/>
<rect x="79.8" y="444" width="64.7" height="4.5" fill="#3c3a3c"/>
<rect x="79.8" y="448.5" width="64.7" height="3.7" fill="#b4b0ac"/>
<path d="M87,453 L84,457.6 M138,453 L141,457.6" stroke="#333" stroke-width="1.3"/>
</svg></body></html>
